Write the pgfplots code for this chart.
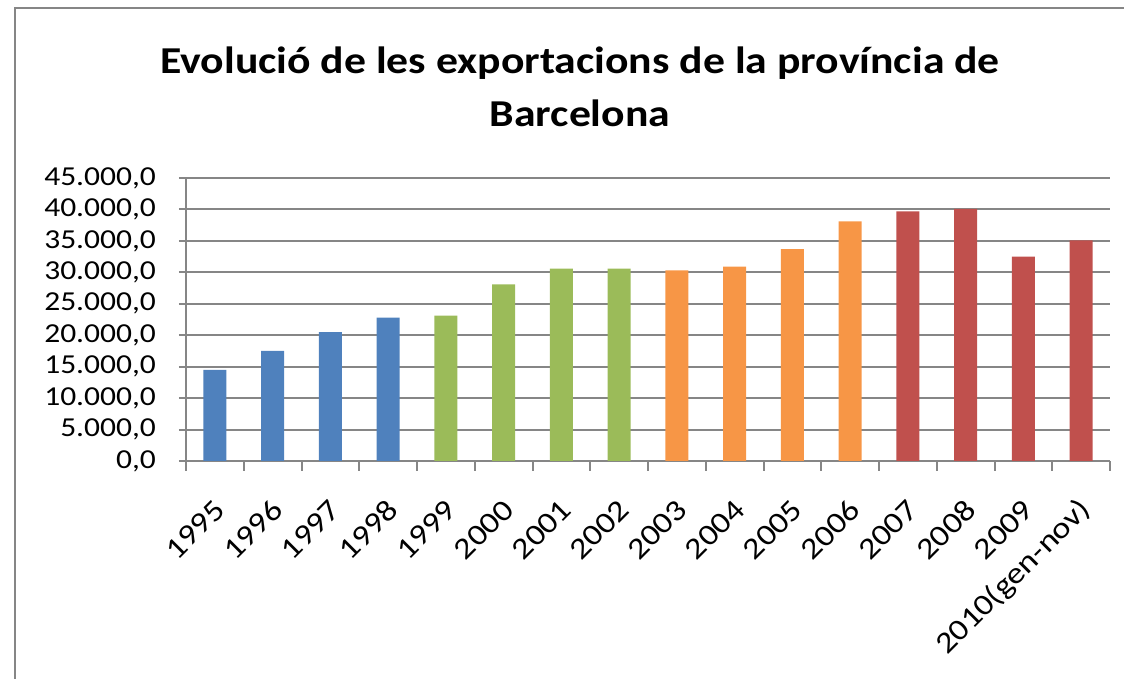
\documentclass[border=0pt]{standalone}
\usepackage{fontspec}
\setmainfont{Carlito}[FakeStretch=1.15]
\usepackage{pgfplots}
\pgfplotsset{compat=1.18}
\definecolor{gridgray}{RGB}{134,134,134}
\definecolor{bblue}{RGB}{79,129,189}
\definecolor{bgreen}{RGB}{155,187,89}
\definecolor{borange}{RGB}{247,150,70}
\definecolor{bred}{RGB}{192,80,77}

\begin{document}
\begin{tikzpicture}
\useasboundingbox (0,0) rectangle (562pt,339.5pt);
\draw[gridgray, line width=1pt] (7.5pt,0) -- (7.5pt,335.5pt) -- (563pt,335.5pt);
\node[font=\fontsize{19}{26.5}\selectfont\bfseries, align=center] at (290pt,296pt)
  {Evolució de les exportacions de la província de\\Barcelona};
\begin{axis}[
  at={(93pt,109pt)}, anchor=south west,
  scale only axis, width=462pt, height=141.5pt,
  xmin=-0.5, xmax=15.5, ymin=0, ymax=45000,
  axis x line*=bottom, axis y line*=left,
  axis line style={gridgray, line width=1pt},
  ymajorgrids, major grid style={gridgray, line width=1pt},
  ytick={0,5000,...,45000},
  xtick={0,...,15},
  xticklabels={1995,1996,1997,1998,1999,2000,2001,2002,2003,2004,2005,2006,2007,2008,2009,2010(gen-nov)},
  minor xtick={-0.5,0.5,...,15.5},
  tick align=outside,
  major x tick style={draw=none},
  minor x tick style={gridgray, line width=1pt},
  minor tick length=5pt,
  major y tick style={gridgray, line width=1pt},
  major tick length=3.5pt,
  scaled y ticks=false,
  /pgf/number format/fixed,
  /pgf/number format/fixed zerofill,
  /pgf/number format/precision=1,
  /pgf/number format/1000 sep={.},
  /pgf/number format/dec sep={,},
  /pgf/number format/assume math mode=true,
  yticklabel style={font=\fontsize{13.7}{14}\selectfont, xshift=-8pt},
  xticklabel style={font=\fontsize{15}{16}\selectfont, xshift=5pt, yshift=-16pt, rotate=45, anchor=east},
  ybar, bar width=11.5pt, bar shift=0pt,
]
\addplot[fill=bblue, draw=none] coordinates {(0,14500) (1,17500) (2,20500) (3,22800)};
\addplot[fill=bgreen, draw=none] coordinates {(4,23100) (5,28100) (6,30600) (7,30600)};
\addplot[fill=borange, draw=none] coordinates {(8,30300) (9,30900) (10,33700) (11,38100)};
\addplot[fill=bred, draw=none] coordinates {(12,39700) (13,40100) (14,32500) (15,35100)};
\end{axis}
\end{tikzpicture}
\end{document}
